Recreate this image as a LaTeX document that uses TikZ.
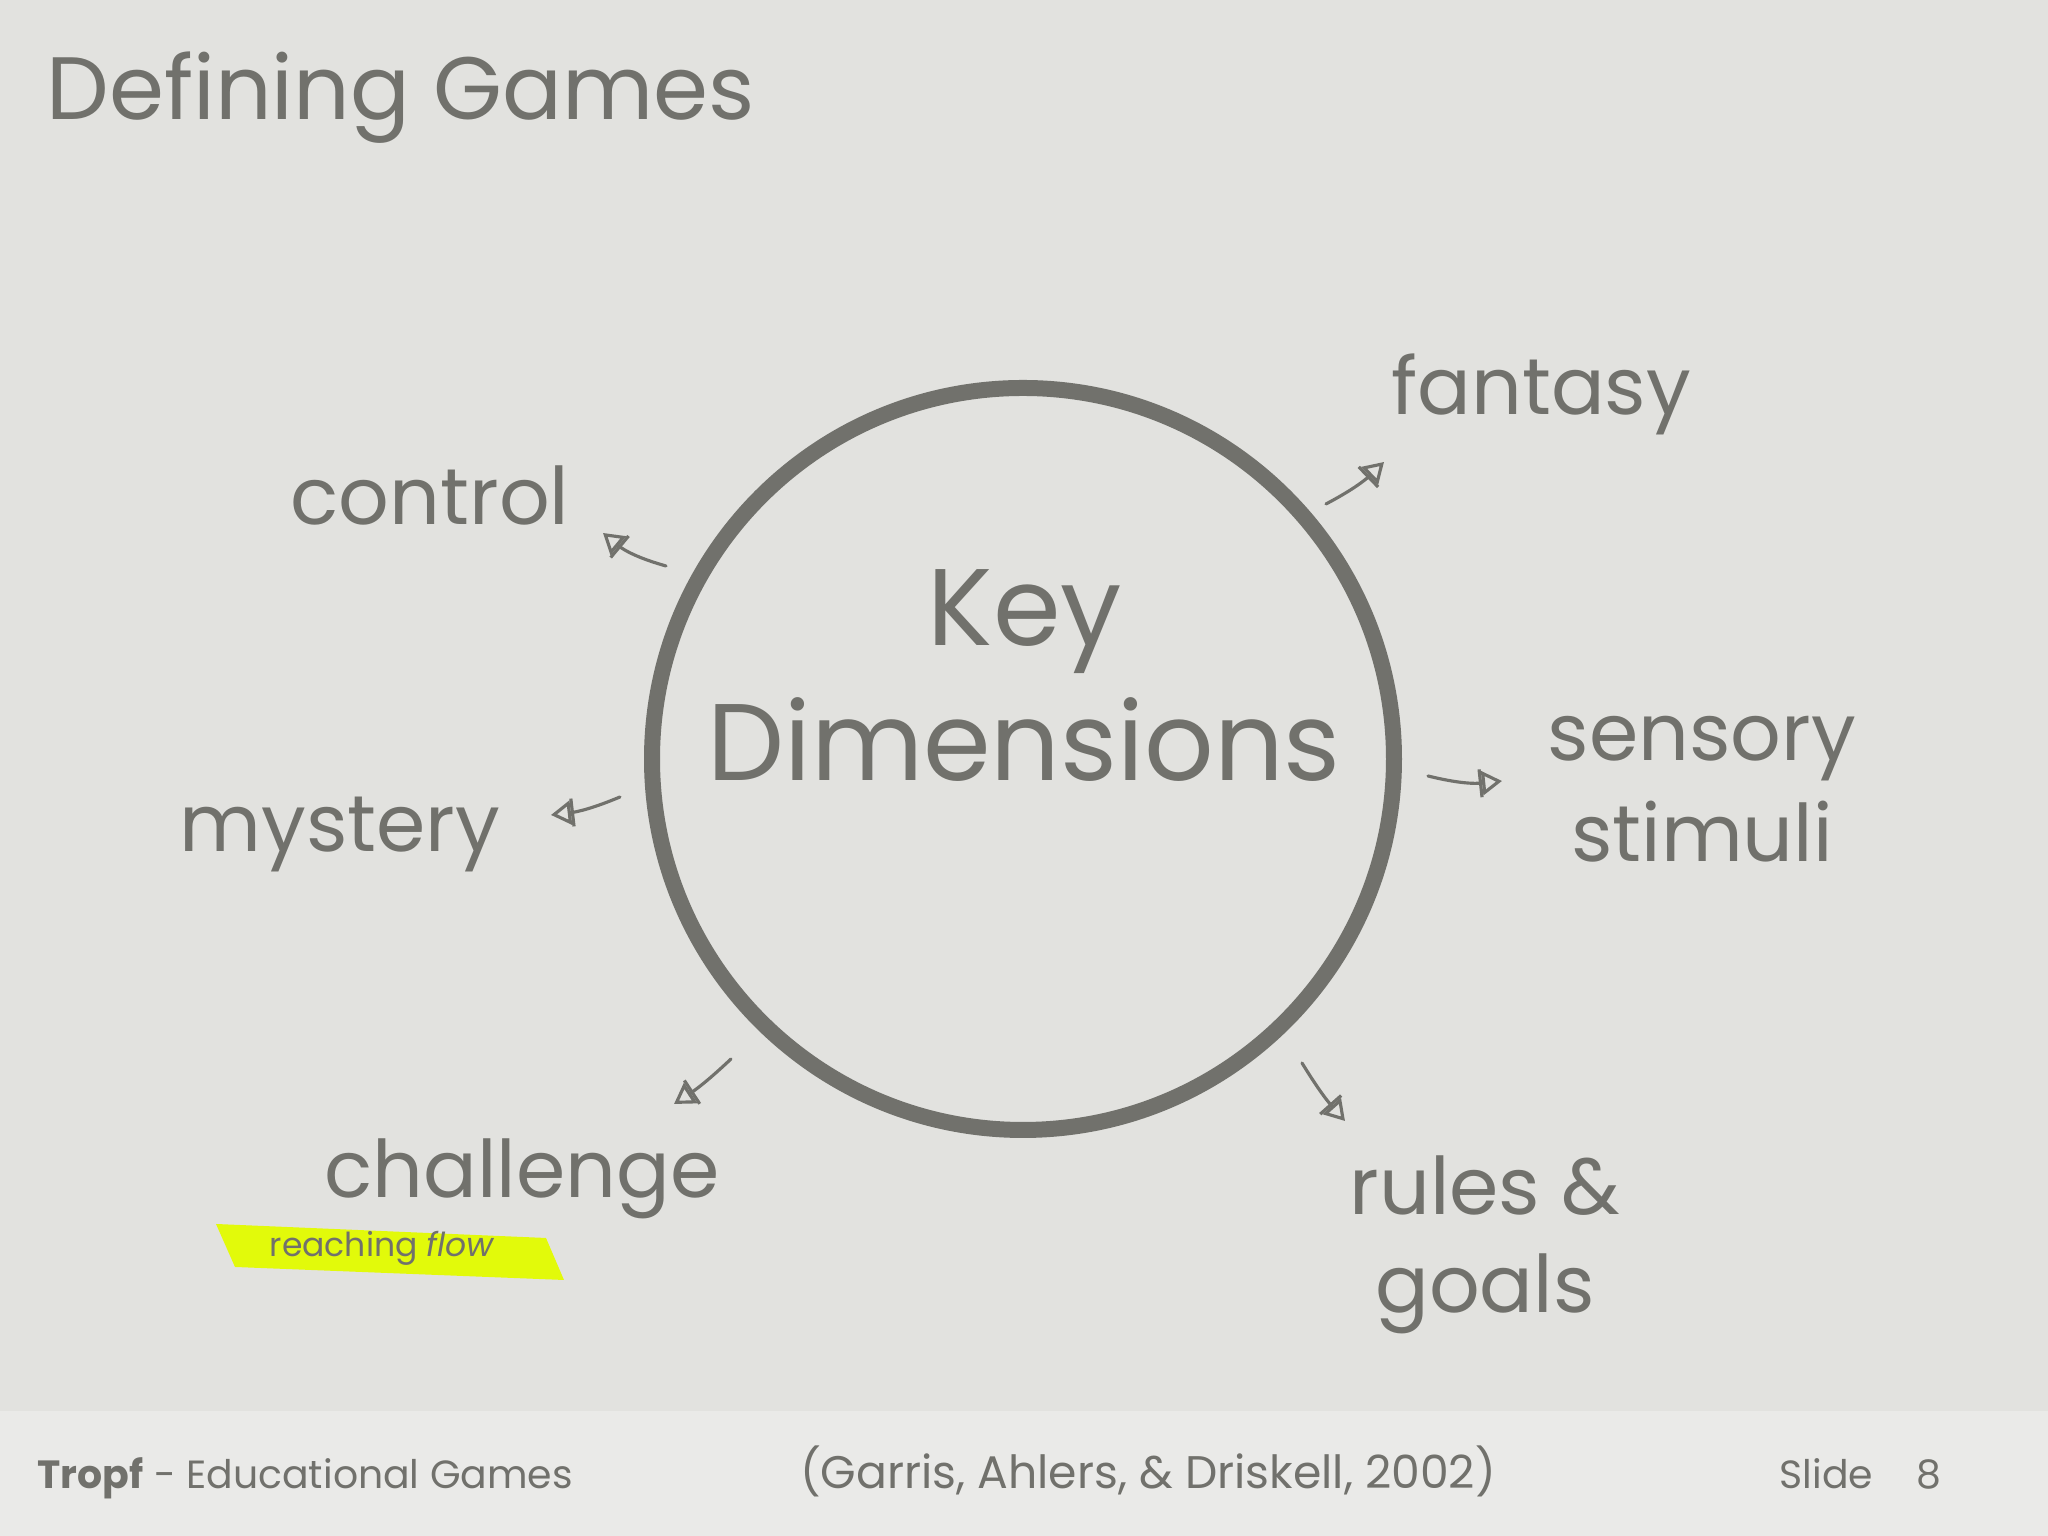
\documentclass[tikz,border=0pt]{standalone}
\usepackage{fontspec}
\setmainfont{Poppins}
\usetikzlibrary{arrows.meta}

\definecolor{slidebg}{HTML}{E2E2DF}
\definecolor{footbg}{HTML}{EAEAE8}
\definecolor{inkgray}{HTML}{71716C}
\definecolor{marker}{HTML}{E2FA0A}

\tikzset{
  dimlabel/.style={text=inkgray, inner sep=0pt, font=\fontsize{22.6}{29}\selectfont},
  sketcharrow/.style={draw=inkgray, line width=0.9pt, line cap=round,
    -{Bar[width=2.8mm,line width=0.9pt] Triangle[open,length=2mm,width=2.4mm,line width=0.9pt]}},
  footlabel/.style={text=inkgray, inner sep=0pt, anchor=base west, font=\fontsize{11.2}{14}\selectfont}
}

\begin{document}
\begin{tikzpicture}
        % Slide background
        \fill[slidebg] (0,0) rectangle (20.48,15.36);
        \fill[footbg] (0,0) rectangle (20.48,1.25);
        \useasboundingbox (0,0) rectangle (20.48,15.36);

        % Title
        \node[text=inkgray, inner sep=0pt, anchor=base west, font=\fontsize{25.2}{31}\selectfont] (title) at (0.46,14.16) {Defining Games};

        % Key Dimensions
        \draw[inkgray, line width=0.16cm] (10.23,7.77) circle (3.71);
        \node[text=inkgray, inner sep=0pt, anchor=base, font=\fontsize{31}{38}\selectfont] (key) at (10.25,8.90) {Key};
        \node[text=inkgray, inner sep=0pt, anchor=base, font=\fontsize{31}{38}\selectfont] (dims) at (10.24,7.55) {Dimensions};

        % Dimensions around the circle
        \node[dimlabel, anchor=base west] (fantasy) at (13.91,11.21) {fantasy};
        \node[dimlabel, anchor=base west] (control) at (2.90,10.11) {control};
        \node[dimlabel, anchor=base] (sensory) at (17.02,7.75) {sensory};
        \node[dimlabel, anchor=base] (stimuli) at (17.02,6.74) {stimuli};
        \node[dimlabel, anchor=base west] (mystery) at (1.79,6.84) {mystery};
        \node[dimlabel, anchor=base west] (challenge) at (3.24,3.38) {challenge};
        \node[dimlabel, anchor=base] (rules) at (14.85,3.21) {rules \&};
        \node[dimlabel, anchor=base] (goals) at (14.85,2.23) {goals};

        % Highlighter note
        \fill[marker] (2.16,3.12) -- (5.46,2.98) -- (5.64,2.56) -- (2.35,2.69) -- cycle;
        \node[text=inkgray, inner sep=0pt, anchor=base west, font=\fontsize{9.4}{12}\selectfont] (flow) at (2.69,2.79) {reaching \textit{flow}};

        % Arrow ends
        \coordinate (ctl-s) at (6.66,9.70);  \coordinate (ctl-e) at (6.03,10.03);
        \coordinate (fan-s) at (13.26,10.32); \coordinate (fan-e) at (13.84,10.74);
        \coordinate (mys-s) at (6.20,7.39);  \coordinate (mys-e) at (5.51,7.21);
        \coordinate (sen-s) at (14.28,7.60); \coordinate (sen-e) at (15.02,7.55);
        \coordinate (cha-s) at (7.31,4.77);  \coordinate (cha-e) at (6.74,4.32);
        \coordinate (rul-s) at (13.02,4.73); \coordinate (rul-e) at (13.45,4.15);

        % Connections
        \draw[sketcharrow] (ctl-s) to[bend left=12] (ctl-e);
        \draw[sketcharrow] (fan-s) to[bend right=8] (fan-e);
        \draw[sketcharrow] (mys-s) to[bend left=8] (mys-e);
        \draw[sketcharrow] (sen-s) to[bend right=10] (sen-e);
        \draw[sketcharrow] (cha-s) to[bend left=5] (cha-e);
        \draw[sketcharrow] (rul-s) to[bend right=5] (rul-e);

        % Footer
        \node[footlabel] (course) at (0.37,0.47) {\textbf{Tropf} - Educational Games};
        \node[footlabel, anchor=base, font=\fontsize{13}{16}\selectfont] (cite) at (11.48,0.47) {(Garris, Ahlers, \& Driskell, 2002)};
        \node[footlabel] (slide) at (17.79,0.47) {Slide\hspace{1.1em}8};
\end{tikzpicture}
\end{document}
